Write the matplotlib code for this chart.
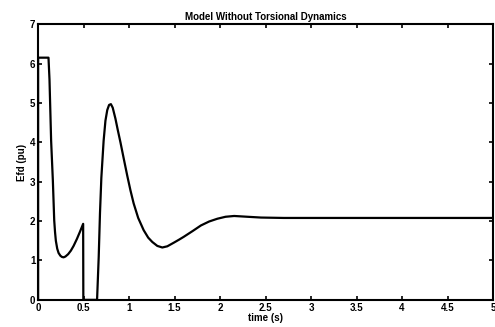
import numpy as np
import matplotlib.pyplot as plt

# field voltage response
time_s = [0.0, 0.0, 0.114, 0.125, 0.143, 0.162, 0.177, 0.186, 0.195, 0.21, 0.225,
          0.245, 0.262, 0.28, 0.30, 0.33, 0.36, 0.39, 0.427, 0.46, 0.495, 0.497,
          0.648, 0.666, 0.68, 0.695, 0.72, 0.74, 0.76, 0.78, 0.80, 0.82, 0.85,
          0.875, 0.905, 0.94, 0.98, 1.015, 1.05, 1.1, 1.16, 1.21, 1.255, 1.31,
          1.365, 1.42, 1.49, 1.55, 1.60, 1.70, 1.79, 1.88, 1.97, 2.06, 2.155,
          2.3, 2.45, 2.7, 3.0, 4.0, 5.0]
efd_pu = [0.0, 6.15, 6.15, 5.6, 4.04, 3.03, 2.02, 1.72, 1.5, 1.3, 1.19,
          1.12, 1.09, 1.08, 1.1, 1.16, 1.25, 1.37, 1.55, 1.73, 1.93, 0.0,
          0.0, 1.09, 2.2, 3.1, 4.04, 4.55, 4.82, 4.95, 4.97, 4.88, 4.6,
          4.32, 4.0, 3.6, 3.15, 2.78, 2.45, 2.08, 1.77, 1.58, 1.47, 1.37,
          1.33, 1.36, 1.45, 1.53, 1.6, 1.75, 1.89, 1.99, 2.06, 2.11, 2.13,
          2.11, 2.09, 2.08, 2.08, 2.08, 2.08]

xticks = np.arange(0, 5.01, 0.5)
xlabels = ['0', '0.5', '1', '1.5', '2', '2.5', '3', '3.5', '4', '4.5', '5']
yticks = list(range(0, 8))

plt.rcParams['font.family'] = ['Liberation Sans', 'DejaVu Sans']
plt.rcParams['font.weight'] = 'bold'

fig = plt.figure(figsize=(4.95, 3.27), dpi=100)
ax = fig.add_axes([0.077, 0.083, 0.919, 0.843])
ax.plot(time_s, efd_pu, color='black', linewidth=1.6)

ax.set_xlim(0, 5)
ax.set_ylim(0, 7)
ax.set_xticks(xticks)
ax.set_xticklabels(xlabels)
ax.set_yticks(yticks)
ax.tick_params(direction='in', top=True, right=True, length=3, width=1.2,
               labelsize=7, pad=2)
for s in ax.spines.values():
    s.set_linewidth(1.5)

ax.set_title('Model Without Torsional Dynamics', fontsize=7, fontweight='bold', pad=3)
ax.set_xlabel('time (s)', fontsize=7, fontweight='bold', labelpad=0)
ax.set_ylabel('Efd (pu)', fontsize=7, fontweight='bold', labelpad=2)

fig.savefig('out.png', dpi=100)
